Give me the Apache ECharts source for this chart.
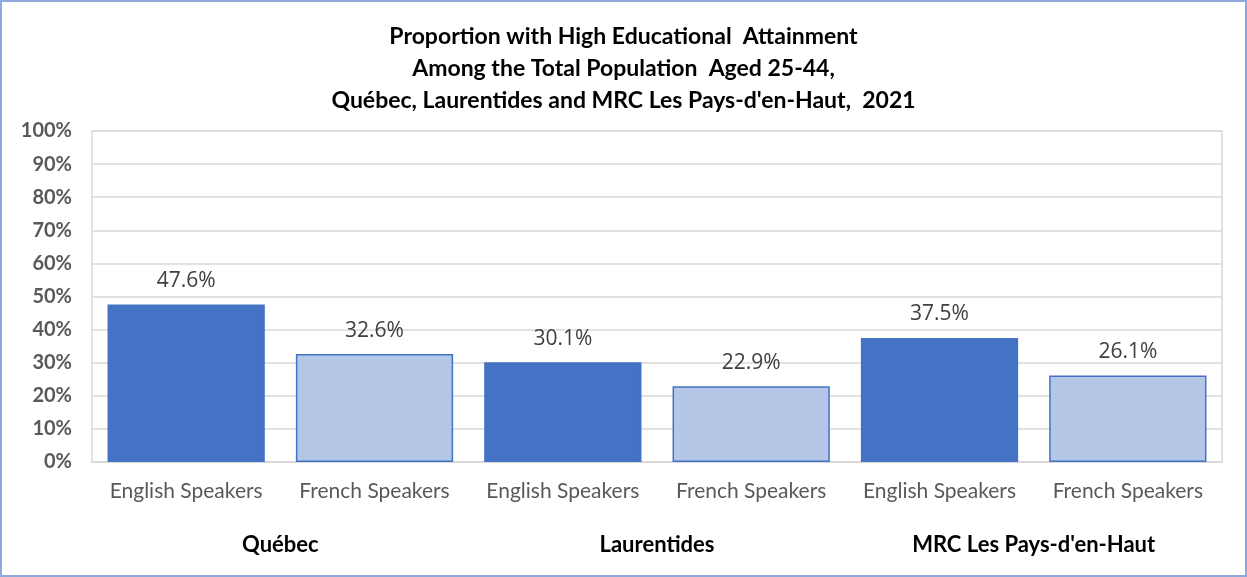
<!DOCTYPE html>
<html>
<head>
<meta charset="utf-8">
<script src="https://cdn.jsdelivr.net/npm/echarts@6/dist/echarts.min.js"></script>
<style>
  html, body { margin: 0; padding: 0; background: #fff; }
  #main { width: 1247px; height: 577px; box-sizing: border-box; border: 2px solid #8eaadc; }
</style>
</head>
<body>
<div id="main"></div>
<script>
// data
var categories = ['English Speakers', 'French Speakers', 'English Speakers', 'French Speakers', 'English Speakers', 'French Speakers'];
var groups = ['Québec', 'Laurentides', "MRC Les Pays-d'en-Haut"];
var values = [47.6, 32.6, 30.1, 22.9, 37.5, 26.1];
var yTicks = [0, 100, 10]; // min, max, step

var darkBlue = '#4472c4';
var lightBlue = '#b4c7e7';
var font = 'Lato, "Liberation Sans", sans-serif';

var chart = echarts.init(document.getElementById('main'), null, { renderer: 'canvas' });

var option = {
  backgroundColor: '#fff',
  animation: false,
  title: {
    text: 'Proportion with High Educational  Attainment\nAmong the Total Population  Aged 25-44,\nQuébec, Laurentides and MRC Les Pays-d\'en-Haut,  2021',
    left: 'center',
    top: 14,
    textStyle: {
      fontFamily: font,
      fontSize: 23,
      fontWeight: 'bold',
      color: '#000',
      lineHeight: 32
    }
  },
  grid: {
    left: 90,
    right: 23,
    top: 129,
    bottom: 113,
    show: true,
    borderColor: '#d9d9d9',
    borderWidth: 1.5
  },
  xAxis: [{
    type: 'category',
    data: categories,
    axisLine: { lineStyle: { color: '#d9d9d9', width: 1.5 } },
    axisTick: { show: false },
    axisLabel: {
      margin: 19,
      fontFamily: font,
      fontSize: 21,
      color: '#595959',
      interval: 0
    }
  }, {
    type: 'category',
    data: groups,
    position: 'bottom',
    offset: 62,
    axisLine: { show: false },
    axisTick: { show: false },
    axisLabel: {
      margin: 10,
      fontFamily: font,
      fontSize: 22,
      fontWeight: 'bold',
      color: '#000',
      interval: 0
    }
  }],
  yAxis: {
    type: 'value',
    min: yTicks[0],
    max: yTicks[1],
    interval: yTicks[2],
    axisLine: { show: false },
    axisTick: { show: false },
    splitLine: { lineStyle: { color: '#d9d9d9', width: 1.5 } },
    axisLabel: {
      margin: 20,
      fontFamily: font,
      fontSize: 20,
      fontWeight: 'bold',
      color: '#595959',
      formatter: '{value}%'
    }
  },
  series: [{
    type: 'bar',
    xAxisIndex: 0,
    data: values,
    barCategoryGap: '16.5%',
    itemStyle: {
      color: function (p) { return p.dataIndex % 2 === 0 ? darkBlue : lightBlue; },
      borderColor: darkBlue,
      borderWidth: 1.5
    },
    label: {
      show: true,
      position: 'top',
      distance: 13,
      fontFamily: '"Open Sans", "Noto Sans", sans-serif',
      fontSize: 21,
      color: '#404040',
      formatter: function (p) { return p.value.toFixed(1) + '%'; }
    }
  }]
};

chart.setOption(option);
</script>
</body>
</html>
